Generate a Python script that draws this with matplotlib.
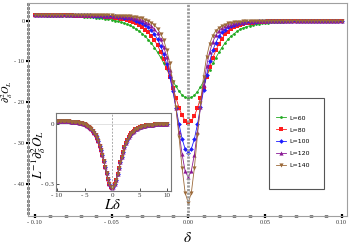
import numpy as np
import matplotlib
matplotlib.use("Agg")
import matplotlib.pyplot as plt
from matplotlib.patches import Rectangle
from matplotlib.ticker import FixedLocator, FixedFormatter, MultipleLocator

plt.rcParams['mathtext.fontset'] = 'stix'

# sampling grid of the main plot (delta from -0.1 to 0.1, step 0.002)
delta = np.linspace(-0.1, 0.1, 101)

sizes = [60, 80, 100, 120, 140]

d2O_60 = ([1.3, 1.3, 1.3, 1.3, 1.2, 1.2, 1.2, 1.2, 1.2, 1.2,
           1.1, 1.1, 1.1, 1.1, 1.0, 1.0, 0.9, 0.9, 0.8, 0.8,
           0.7, 0.6, 0.5, 0.4, 0.3, 0.2, 0.0, -0.2, -0.4, -0.6,
           -0.9, -1.2, -1.6, -2.1, -2.6, -3.2, -3.9, -4.7, -5.6, -6.6,
           -7.8, -9.0, -10.4, -11.8, -13.3, -14.8, -16.1, -17.3, -18.2, -18.8,
           -19.0,
           -18.8, -18.3, -17.4, -16.2, -14.9, -13.5, -12.0, -10.5, -9.1, -7.8,
           -6.6, -5.5, -4.6, -3.8, -3.2, -2.6, -2.1, -1.8, -1.5, -1.3,
           -1.1, -0.9, -0.8, -0.7, -0.6, -0.5, -0.4, -0.4, -0.3, -0.3,
           -0.3, -0.2, -0.2, -0.2, -0.2, -0.2] + [-0.1] * 9 + [0.0] * 5)

d2O_80 = ([1.3] * 13 + [1.2] * 5 + [1.1] * 3 +
          [1.0, 1.0, 0.9, 0.9, 0.8, 0.7, 0.6, 0.4, 0.3, 0.1,
           -0.1, -0.4, -0.7, -1.1, -1.6, -2.2, -2.9, -3.8, -4.8, -6.1,
           -7.6, -9.4, -11.5, -13.9, -16.4, -18.9, -21.3, -23.2, -24.5,
           -25.0,
           -24.6, -23.3, -21.4, -19.0, -16.4, -13.8, -11.3, -9.2, -7.3, -5.7,
           -4.4, -3.4, -2.7, -2.1, -1.6, -1.3, -1.1, -0.9, -0.7, -0.6,
           -0.5, -0.4, -0.4, -0.3, -0.3, -0.2, -0.2, -0.2, -0.2]
          + [-0.1] * 7 + [0.0] * 14)

d2O_100 = ([1.4] * 7 + [1.3] * 12 + [1.2] * 4 + [1.1] * 2 + [1.0] * 2 +
           [0.9, 0.8, 0.7, 0.6, 0.5, 0.3, 0.0, -0.3, -0.6, -1.1,
            -1.7, -2.4, -3.4, -4.6, -6.2, -8.2, -10.7, -13.7, -17.3, -21.3,
            -25.3, -28.9, -31.4,
            -32.3,
            -31.4, -29.0, -25.4, -21.2, -17.0, -13.2, -10.0, -7.3, -5.4, -3.9,
            -2.9, -2.2, -1.6, -1.3, -1.0, -0.8, -0.7, -0.5, -0.4, -0.4,
            -0.3, -0.3, -0.2, -0.2, -0.2] + [-0.1] * 6 + [0.0] * 19)

d2O_120 = ([1.4] * 13 + [1.3] * 10 + [1.2] * 3 + [1.1] * 2 + [1.0] * 2 +
           [0.9, 0.8, 0.7, 0.5, 0.3, 0.1, -0.3, -0.7, -1.3, -2.1,
            -3.1, -4.5, -6.4, -8.9, -12.2, -16.4, -21.5, -27.2, -32.7, -36.8,
            -38.3,
            -36.8, -32.8, -27.2, -21.2, -15.7, -11.1, -7.7, -5.2, -3.6, -2.5,
            -1.8, -1.4, -1.0, -0.8, -0.7, -0.5, -0.4, -0.3, -0.3, -0.2,
            -0.2] + [-0.1] * 6 + [0.0] * 23)

d2O_140 = ([1.4] * 18 + [1.3] * 8 + [1.2] * 3 + [1.1] * 2 +
           [1.0, 0.9, 0.8, 0.7, 0.5, 0.2, -0.1, -0.5, -1.1, -2.0,
            -3.2, -4.8, -7.2, -10.5, -15.0, -21.1, -28.4, -36.0, -42.1,
            -44.5,
            -42.2, -36.1, -28.1, -20.2, -13.7, -8.9, -5.7, -3.7, -2.5, -1.8,
            -1.3, -1.0, -0.7, -0.5, -0.4, -0.3, -0.3, -0.2, -0.2]
           + [-0.1] * 5 + [0.0] * 26)

curves = [d2O_60, d2O_80, d2O_100, d2O_120, d2O_140]

# inset: scaled data, L*delta from -10 to 10 (step 0.25)
Ldelta = np.linspace(-10, 10, 81)
scaled = [0.013, 0.013, 0.013, 0.013, 0.012, 0.012, 0.012, 0.011, 0.011, 0.011,
          0.010, 0.009, 0.009, 0.008, 0.007, 0.006, 0.004, 0.003, 0.001, -0.001,
          -0.004, -0.007, -0.011, -0.016, -0.021, -0.028, -0.036, -0.046, -0.057, -0.072,
          -0.089, -0.109, -0.132, -0.158, -0.187, -0.218, -0.248, -0.277, -0.300, -0.315,
          -0.320,
          -0.315, -0.300, -0.279, -0.252, -0.222, -0.193, -0.165, -0.140, -0.118, -0.099,
          -0.083, -0.069, -0.058, -0.049, -0.041, -0.035, -0.029, -0.025, -0.021, -0.018,
          -0.016, -0.014, -0.012, -0.010, -0.009, -0.008, -0.007, -0.006, -0.005, -0.005,
          -0.004, -0.004, -0.003, -0.003, -0.003, -0.002, -0.002, -0.002, -0.002, -0.002]

colors = ['#22aa22', '#ff1c1c', '#1c1cff', '#8b1a96', '#9c6a3a']
markers = ['o', 's', 'D', '^', 'v']
msizes = [2.0, 2.8, 2.4, 3.0, 3.0]

fig = plt.figure(figsize=(3.54, 2.45), dpi=100)
ax = fig.add_axes([0.079, 0.118, 0.901, 0.870])

for L, y, c, m, ms in zip(sizes, curves, colors, markers, msizes):
    ax.plot(delta, y, color=c, marker=m, ms=ms, lw=0.6, mew=0,
            label='L=%d' % L)

ax.axvline(0, color='#9a9a9a', lw=2.0, ls=(0, (0.8, 0.5)), zorder=5)

ax.set_xlim(-0.1045, 0.1035)
ax.set_ylim(-47.8, 4.3)

for s in ax.spines.values():
    s.set_color('#a0a0a0')
    s.set_linewidth(0.8)

ax.xaxis.set_major_locator(FixedLocator([-0.1, -0.05, 0.0, 0.05, 0.1]))
ax.xaxis.set_major_formatter(FixedFormatter(['- 0.10', '- 0.05', '0.00', '0.05', '0.10']))
ax.xaxis.set_minor_locator(MultipleLocator(0.01))
ax.yaxis.set_major_locator(FixedLocator([0, -10, -20, -30, -40]))
ax.yaxis.set_major_formatter(FixedFormatter(['0', '- 10', '- 20', '- 30', '- 40']))
ax.yaxis.set_minor_locator(MultipleLocator(1))
ax.tick_params(which='major', direction='inout', length=3, width=1.6, color='black',
               labelsize=4.5, pad=1.0, labelcolor='#333333')
ax.tick_params(axis='x', which='minor', direction='inout', length=1.5, width=2.5, color='black')
ax.tick_params(axis='y', which='minor', direction='inout', length=1.5, width=2.0, color='black')
for lab in ax.get_xticklabels() + ax.get_yticklabels():
    lab.set_family('Liberation Serif')

fig.text(0.531, 0.03, r'$\delta$', fontsize=11, ha='center', va='center')
fig.text(0.021, 0.625, r'$\partial_\delta^2 O_L$', fontsize=7.5, ha='center', va='center',
         rotation=90)

# legend box
fig.patches.append(Rectangle((0.760, 0.229), 0.155, 0.371, transform=fig.transFigure,
                             fill=False, ec='#555555', lw=0.8))
leg = ax.legend(loc='upper left', bbox_to_anchor=(0.772, 0.54), bbox_transform=fig.transFigure,
                frameon=False, fontsize=4.5, handlelength=1.6, labelspacing=1.05,
                handletextpad=0.5, borderaxespad=0)

# inset
ins = fig.add_axes([0.158, 0.2204, 0.325, 0.318])
for L, c, m, ms in zip(sizes, colors, markers, msizes):
    ins.plot(Ldelta, scaled, color=c, marker=m, ms=ms, lw=0.6, mew=0)
ins.axvline(0, color='#aaaaaa', lw=0.7, ls=(0, (2, 1.5)), zorder=5)
ins.axhline(0, color='#dddddd', lw=0.6, zorder=0)
ins.set_xlim(-10.2, 10.7)
ins.set_ylim(-0.335, 0.052)
for s in ins.spines.values():
    s.set_color('#777777')
    s.set_linewidth(0.8)
ins.xaxis.set_major_locator(FixedLocator([-10, -5, 0, 5, 10]))
ins.xaxis.set_major_formatter(FixedFormatter(['- 10', '- 5', '0', '5', '10']))
ins.yaxis.set_major_locator(FixedLocator([0, -0.3]))
ins.yaxis.set_major_formatter(FixedFormatter(['0', '- 0.3']))
ins.tick_params(direction='in', length=2, width=0.6, labelsize=5, pad=1.5,
                color='#333333', labelcolor='#333333')
for lab in ins.get_xticklabels() + ins.get_yticklabels():
    lab.set_family('Liberation Serif')
fig.text(0.319, 0.165, r'$L\delta$', fontsize=10.5, ha='center', va='center')
fig.text(0.11, 0.37, r'$L^{-1}\partial_\delta^2 O_L$', fontsize=9.5, ha='center', va='center',
         rotation=90)

fig.savefig('out.png', dpi=100)
